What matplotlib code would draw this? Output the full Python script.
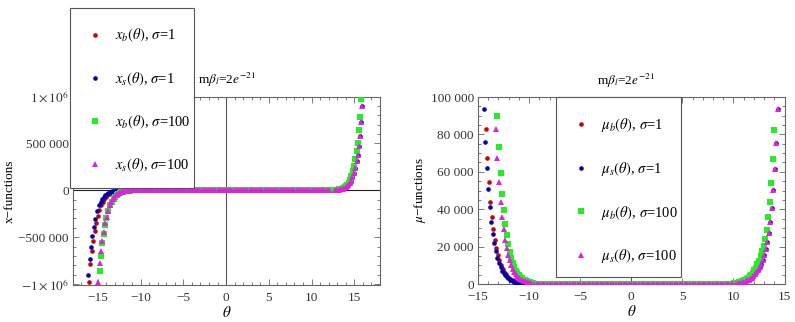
import numpy as np
import matplotlib.pyplot as plt
from matplotlib.patches import Rectangle
from matplotlib.ticker import MultipleLocator, FixedLocator

plt.rcParams['font.family'] = ['Liberation Serif', 'DejaVu Serif']
plt.rcParams['mathtext.fontset'] = 'stix'

# shared theta grid for the flat middle part (values there are ~0)
plateau = [-12.0, -11.75, -11.5, -11.25, -11.0, -10.75, -10.5, -10.25, -10.0, -9.75,
           -9.5, -9.25, -9.0, -8.75, -8.5, -8.25, -8.0, -7.75, -7.5, -7.25, -7.0,
           -6.75, -6.5, -6.25, -6.0, -5.75, -5.5, -5.25, -5.0, -4.75, -4.5, -4.25,
           -4.0, -3.75, -3.5, -3.25, -3.0, -2.75, -2.5, -2.25, -2.0, -1.75, -1.5,
           -1.25, -1.0, -0.75, -0.5, -0.25, 0.0, 0.25, 0.5, 0.75, 1.0, 1.25, 1.5,
           1.75, 2.0, 2.25, 2.5, 2.75, 3.0, 3.25, 3.5, 3.75, 4.0, 4.25, 4.5, 4.75,
           5.0, 5.25, 5.5, 5.75, 6.0, 6.25, 6.5, 6.75, 7.0, 7.25, 7.5, 7.75, 8.0,
           8.25, 8.5, 8.75, 9.0, 9.25, 9.5, 9.75, 10.0, 10.25, 10.5, 10.75, 11.0,
           11.25, 11.5, 11.75, 12.0]

# ---- x-functions (values in thousands) ----
xb1_left_t = [-16.02, -15.87, -15.70, -15.54, -15.36, -15.19, -15.02, -14.80, -14.60, -14.42,
              -14.25, -14.08, -13.90, -13.72, -13.55, -13.38, -13.20, -13.02, -12.85, -12.68,
              -12.50, -12.32]
xb1_left_v = [-973, -789, -651, -538, -438, -353, -279, -205, -160, -124,
              -95, -72, -54, -40, -29, -21, -15, -11, -8, -5, -3, -2]
xs1_left_t = [-16.14, -15.96, -15.80, -15.64, -15.47, -15.29, -15.10, -14.88, -14.68, -14.50,
              -14.32, -14.15, -13.98, -13.80, -13.62, -13.45, -13.28, -13.10, -12.92, -12.75,
              -12.58, -12.40]
xs1_left_v = [-906, -729, -608, -485, -396, -308, -226, -162, -125, -98,
              -72, -53, -41, -30, -22, -17, -12, -9, -6, -4, -3, -2]
xb100_left_t = [-14.78, -14.62, -14.47, -14.30, -14.15, -14.00, -13.77, -13.55, -13.32, -13.14,
                -12.96, -12.79, -12.62, -12.44, -12.26, -12.09, -11.92, -11.74, -11.56, -11.39,
                -11.22, -11.04]
xb100_left_v = [-859, -697, -562, -463, -371, -294, -226, -162, -125, -98,
                -72, -53, -41, -30, -22, -17, -12, -9, -6, -4, -3, -2]
xs100_left_t = [-15.00, -14.77, -14.62, -14.47, -14.30, -14.15, -13.95, -13.77, -13.60, -13.42,
                -13.25, -13.08, -12.90, -12.72, -12.55, -12.38, -12.20, -12.02, -11.85, -11.68,
                -11.50, -11.32]
xs100_left_v = [-973, -771, -651, -541, -446, -353, -283, -219, -160, -124,
                -95, -72, -54, -40, -29, -21, -15, -11, -8, -5, -3, -2]
# right tails coincide for sigma=1 and sigma=100
xb_right_t = [12.42, 12.58, 12.74, 12.90, 13.06, 13.22, 13.38, 13.54, 13.70, 13.86,
              14.02, 14.18, 14.34, 14.50, 14.66, 14.82, 14.97, 15.09, 15.29, 15.44,
              15.56, 15.67, 15.75]
xb_right_v = [2, 3, 4, 6, 8, 10, 14, 19, 25, 33,
              44, 60, 82, 110, 148, 201, 262, 336, 417, 506,
              644, 785, 972]
xs_right_t = [12.70, 12.86, 13.02, 13.18, 13.34, 13.50, 13.66, 13.82, 13.98, 14.14,
              14.30, 14.46, 14.62, 14.78, 14.94, 15.12, 15.29, 15.40, 15.56, 15.67,
              15.79, 15.94]
xs_right_v = [2, 3, 5, 7, 9, 13, 17, 23, 31, 42,
              56, 76, 103, 138, 183, 241, 308, 379, 467, 584,
              725, 895]

# ---- mu-functions (values in thousands) ----
mub1_left_t = [-14.25, -14.10, -13.95, -13.80, -13.65, -13.50, -13.35, -13.20, -13.05, -12.90,
               -12.75, -12.60, -12.45, -12.30, -12.15, -12.00, -11.85, -11.70, -11.55, -11.40,
               -11.25, -11.10, -10.95, -10.80]
mub1_left_v = [82.7, 67.2, 54.4, 44.0, 36.0, 29.3, 23.8, 19.3, 15.6, 12.6,
               10.1, 8.1, 6.5, 5.2, 4.2, 3.4, 2.7, 2.2, 1.7, 1.4,
               1.1, 0.9, 0.7, 0.5]
mus1_left_t = [-14.45, -14.30, -14.15, -14.00, -13.85, -13.70, -13.55, -13.40, -13.25, -13.10,
               -12.95, -12.80, -12.65, -12.50, -12.35, -12.20, -12.05, -11.90, -11.75, -11.60,
               -11.45, -11.30, -11.15, -11.00, -10.85]
mus1_left_v = [93.7, 76.1, 62.2, 50.6, 41.4, 33.3, 27.0, 21.8, 17.5, 14.0,
               11.2, 9.0, 7.2, 5.8, 4.7, 3.8, 3.0, 2.4, 2.0, 1.6,
               1.3, 1.0, 0.8, 0.6, 0.5]
mub100_left_t = [-13.10, -12.95, -12.80, -12.65, -12.50, -12.35, -12.20, -12.05, -11.90, -11.75,
                 -11.60, -11.45, -11.30, -11.15, -11.00, -10.85, -10.70, -10.55, -10.40, -10.25,
                 -10.10, -9.95, -9.80, -9.65]
mub100_left_v = [89.8, 73.1, 59.2, 48.3, 39.6, 32.0, 26.2, 21.4, 17.3, 13.9,
                 11.2, 9.0, 7.2, 5.8, 4.6, 3.7, 3.0, 2.4, 1.9, 1.5,
                 1.2, 0.9, 0.7, 0.5]
mus100_left_t = [-13.25, -13.10, -12.95, -12.80, -12.65, -12.50, -12.35, -12.20, -12.05, -11.90,
                 -11.75, -11.60, -11.45, -11.30, -11.15, -11.00, -10.85, -10.70, -10.55, -10.40,
                 -10.25, -10.10, -9.95, -9.80]
mus100_left_v = [82.9, 67.2, 54.4, 44.0, 36.0, 29.3, 23.8, 19.3, 15.6, 12.6,
                 10.1, 8.1, 6.5, 5.2, 4.2, 3.4, 2.7, 2.2, 1.7, 1.4,
                 1.1, 0.9, 0.7, 0.5]
mub_right_t = [10.10, 10.25, 10.40, 10.55, 10.70, 10.85, 11.00, 11.15, 11.30, 11.45,
               11.60, 11.75, 11.90, 12.05, 12.20, 12.35, 12.50, 12.65, 12.80, 12.95,
               13.10, 13.25, 13.40, 13.55, 13.70, 13.85, 14.00]
mub_right_v = [0.5, 0.6, 0.8, 1.0, 1.2, 1.5, 1.9, 2.3, 2.8, 3.4,
               4.1, 5.0, 6.0, 7.3, 8.8, 10.5, 12.5, 14.8, 17.5, 20.5,
               24.0, 29.0, 35.7, 44.0, 54.2, 66.8, 82.4]
mus_right_t = [10.45, 10.60, 10.75, 10.90, 11.05, 11.20, 11.35, 11.50, 11.65, 11.80,
               11.95, 12.10, 12.25, 12.40, 12.55, 12.70, 12.85, 13.00, 13.15, 13.30,
               13.45, 13.60, 13.75, 13.90, 14.05, 14.20, 14.35]
mus_right_v = [0.5, 0.6, 0.8, 1.0, 1.2, 1.5, 1.9, 2.3, 2.8, 3.4,
               4.2, 5.1, 6.2, 7.5, 9.0, 10.8, 12.9, 15.4, 18.5, 22.3,
               27.1, 33.3, 40.8, 50.3, 61.7, 75.6, 93.6]

x_labels = [r'$x_b(\theta)$, $\sigma$=1', r'$x_s(\theta)$, $\sigma$=1',
            r'$x_b(\theta)$, $\sigma$=100', r'$x_s(\theta)$, $\sigma$=100']
mu_labels = [r'$\mu_b(\theta)$, $\sigma$=1', r'$\mu_s(\theta)$, $\sigma$=1',
             r'$\mu_b(\theta)$, $\sigma$=100', r'$\mu_s(\theta)$, $\sigma$=100']

styles = [dict(marker='o', color='#cc0000', ms=3.3),
          dict(marker='o', color='#0000b0', ms=3.3),
          dict(marker='s', color='#22ee22', ms=3.8),
          dict(marker='^', color='#e020e0', ms=4.4)]


def series(lt, lv, rt, rv):
    lo, hi = max(lt), min(rt)
    mid = [t for t in plateau if lo + 0.12 < t < hi - 0.12]
    t = list(lt) + mid + list(rt)
    v = [a * 1000 for a in lv] + [0.0] * len(mid) + [a * 1000 for a in rv]
    return t, v


def style_axes(ax):
    for s in ax.spines.values():
        s.set_color('#666666')
        s.set_linewidth(0.8)
    ax.tick_params(which='both', direction='in', top=True, right=True,
                   colors='#666666', labelcolor='#333333', labelsize=9.5, width=0.6)
    ax.tick_params(which='major', length=4)
    ax.tick_params(which='minor', length=2)
    ax.tick_params(axis='y', pad=3)
    ax.tick_params(axis='x', pad=5)


fig = plt.figure(figsize=(7.95, 3.22), dpi=100)
ax1 = fig.add_axes([0.0918, 0.1149, 0.3862, 0.5854])
ax2 = fig.add_axes([0.6013, 0.1180, 0.3862, 0.5807])

# left panel
x_data = [series(xb1_left_t, xb1_left_v, xb_right_t, xb_right_v),
          series(xs1_left_t, xs1_left_v, xs_right_t, xs_right_v),
          series(xb100_left_t, xb100_left_v, xb_right_t, xb_right_v),
          series(xs100_left_t, xs100_left_v, xs_right_t, xs_right_v)]
h1 = []
for (t, v), st, lab in zip(x_data, styles, x_labels):
    h, = ax1.plot(t, v, ls='none', marker=st['marker'], color=st['color'],
                  ms=st['ms'], mew=0, label=lab, zorder=3)
    h1.append(h)
ax1.axhline(0, color='#222222', lw=0.8, zorder=2)
ax1.axvline(0, color='#555555', lw=0.8, zorder=2)
ax1.set_xlim(-17.9, 18.0)
ax1.set_ylim(-1.01e6, 1.0e6)
ax1.xaxis.set_major_locator(MultipleLocator(5))
ax1.xaxis.set_minor_locator(MultipleLocator(1))
ax1.yaxis.set_major_locator(FixedLocator([-1e6, -5e5, 0, 5e5, 1e6]))
ax1.yaxis.set_minor_locator(MultipleLocator(1e5))
ax1.set_yticklabels([r'$-1\times10^{6}$', '\u2212500 000', '0', '500 000', r'$1\times10^{6}$'])
ax1.set_xticklabels(['\u2212%d' % -k if k < 0 else '%d' % k for k in ax1.get_xticks()])
style_axes(ax1)
ax1.set_xlabel(r'$\theta$', fontsize=11, labelpad=1)
ax1.set_ylabel('x\u2212functions', fontsize=9.5, labelpad=2)
ax1.text(0.5, 1.088, r'm$\beta_l$=2$e^{-21}$', transform=ax1.transAxes,
         ha='center', va='center', fontsize=9.5)

# right panel
mu_data = [series(mub1_left_t, mub1_left_v, mub_right_t, mub_right_v),
           series(mus1_left_t, mus1_left_v, mus_right_t, mus_right_v),
           series(mub100_left_t, mub100_left_v, mub_right_t, mub_right_v),
           series(mus100_left_t, mus100_left_v, mus_right_t, mus_right_v)]
h2 = []
for (t, v), st, lab in zip(mu_data, styles, mu_labels):
    h, = ax2.plot(t, v, ls='none', marker=st['marker'], color=st['color'],
                  ms=st['ms'], mew=0, label=lab, zorder=3)
    h2.append(h)
ax2.axvline(0, color='#555555', lw=0.8, zorder=2)
ax2.set_xlim(-15, 15.05)
ax2.set_ylim(0, 100000)
ax2.xaxis.set_major_locator(MultipleLocator(5))
ax2.xaxis.set_minor_locator(MultipleLocator(1))
ax2.yaxis.set_major_locator(MultipleLocator(20000))
ax2.yaxis.set_minor_locator(MultipleLocator(5000))
ax2.set_yticklabels(['%d' % v if v < 1000 else ('%d 000' % (v // 1000)) for v in ax2.get_yticks()])
ax2.set_xticklabels(['\u2212%d' % -k if k < 0 else '%d' % k for k in ax2.get_xticks()])
style_axes(ax2)
ax2.set_xlabel(r'$\theta$', fontsize=11, labelpad=1)
ax2.set_ylabel(r'$\mu$' + '\u2212functions', fontsize=9.5, labelpad=2)
ax2.text(0.48, 1.088, r'm$\beta_l$=2$e^{-21}$', transform=ax2.transAxes,
         ha='center', va='center', fontsize=9.5)

# legends: boxes drawn separately so the right padding stays tight as in the original
W, H = 795.0, 322.0
leg_kw = dict(loc='upper left', bbox_transform=fig.transFigure, borderaxespad=0,
              fontsize=10.5, numpoints=1, frameon=False,
              borderpad=1.3, labelspacing=1.77, handlelength=0.82, handletextpad=0.96)
for (x0, y0, x1, y1), hs in [((70, 8, 194, 188), h1), ((556, 97, 681, 277), h2)]:
    fig.patches.append(Rectangle((x0 / W, 1 - y1 / H), (x1 - x0) / W, (y1 - y0) / H,
                                 transform=fig.transFigure, facecolor='white',
                                 edgecolor='#555555', lw=0.8, zorder=4))
    lg = fig.legend(handles=hs, bbox_to_anchor=(x0 / W, 1 - y0 / H), **leg_kw)
    lg.set_zorder(5)

fig.savefig('out.png', dpi=100, facecolor='white')
